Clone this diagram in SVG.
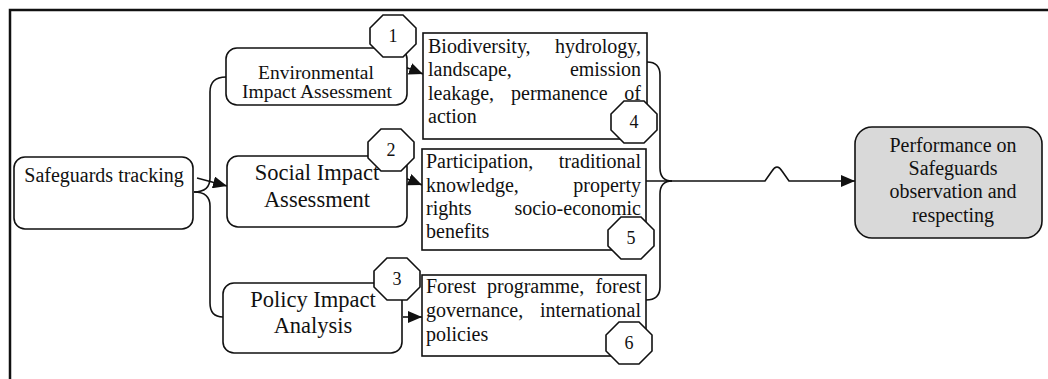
<svg xmlns="http://www.w3.org/2000/svg" width="1048" height="379" viewBox="0 0 1048 379">
<style>
text{font-family:"Liberation Serif","Times New Roman",serif;fill:#111}
.box{fill:#fff;stroke:#111;stroke-width:1.6}
.oct{fill:#fff;stroke:#111;stroke-width:1.6}
.num{font-size:18px;text-anchor:middle}
.c{text-anchor:middle}
.e{text-anchor:end}
.t20{font-size:20px}
.ln{fill:none;stroke:#111;stroke-width:1.6}
</style>
<defs>
<marker id="ah" markerUnits="userSpaceOnUse" markerWidth="16" markerHeight="12" refX="14" refY="6" orient="auto">
<path d="M0,0 L14,6 L0,12 Z" fill="#111"/>
</marker>
<polygon id="octShape" points="-10,-21 10,-21 23,-8 23,8 10,21 -10,21 -23,8 -23,-8"/>
</defs>
<rect width="1048" height="379" fill="#fff"/>
<path d="M10,379 L10,10 L1048,10" fill="none" stroke="#111" stroke-width="2.5"/>

<g id="connectors">
<path class="ln" d="M226,77 Q210,77 210,92 L210,178 Q210,192 194,192"/>
<path class="ln" d="M194,192 Q210,192 210,206 L210,303 Q210,317 223,317"/>
<path class="ln" d="M197,178 L227,186" marker-end="url(#ah)"/>
<path class="ln" d="M405,67 L423,74" marker-end="url(#ah)"/>
<path class="ln" d="M405,178 L422,185" marker-end="url(#ah)"/>
<path class="ln" d="M403,317 L422,317" marker-end="url(#ah)"/>
<path class="ln" d="M647,62 Q660,62 660,75 L660,168 Q660,181 672,181"/>
<path class="ln" d="M646,300 Q660,300 660,287 L660,194 Q660,181 672,181"/>
<path class="ln" d="M646,181 L765,181 L772,171 Q777,163 782,171 L789,181 L855,181" marker-end="url(#ah)"/>
</g>

<g id="safeguards">
<rect class="box" x="14" y="157" width="179" height="72" rx="11"/>
<text class="c t20" x="104" y="182">Safeguards tracking</text>
</g>

<g id="eia">
<rect class="box" x="226" y="48" width="181" height="57" rx="11"/>
<text class="c" x="316" y="79" font-size="19.5">Environmental</text>
<text class="c" x="317" y="98" font-size="19.5">Impact Assessment</text>
</g>

<g id="sia">
<rect class="box" x="227" y="156" width="180" height="71" rx="11"/>
<text class="c" x="317" y="180" font-size="22.5">Social Impact</text>
<text class="c" x="317" y="207" font-size="22.5">Assessment</text>
</g>

<g id="pia">
<rect class="box" x="223" y="283" width="179" height="70" rx="11"/>
<text class="c" x="313" y="307" font-size="22.5">Policy Impact</text>
<text class="c" x="313" y="333" font-size="22.5">Analysis</text>
</g>

<g id="envDetails">
<rect class="box" x="423" y="33" width="224" height="106"/>
<text class="t20" x="428" y="53">Biodiversity,</text>
<text class="t20 e" x="641" y="53">hydrology,</text>
<text class="t20" x="428" y="76">landscape,</text>
<text class="t20 e" x="641" y="76">emission</text>
<text class="t20" x="428" y="99.5">leakage,</text>
<text class="t20" x="511" y="99.5">permanence</text>
<text class="t20 e" x="641" y="99.5">of</text>
<text class="t20" x="428" y="123">action</text>
</g>

<g id="socDetails">
<rect class="box" x="422" y="149" width="224" height="101"/>
<text class="t20" x="426" y="168">Participation,</text>
<text class="t20 e" x="641" y="168">traditional</text>
<text class="t20" x="426" y="192">knowledge,</text>
<text class="t20 e" x="641" y="192">property</text>
<text class="t20" x="426" y="215">rights</text>
<text class="t20 e" x="641" y="215">socio-economic</text>
<text class="t20" x="426" y="238">benefits</text>
</g>

<g id="polDetails">
<rect class="box" x="422" y="275" width="224" height="81"/>
<text class="t20" x="426" y="293">Forest</text>
<text class="t20" x="487" y="293">programme,</text>
<text class="t20 e" x="641" y="293">forest</text>
<text class="t20" x="426" y="317">governance,</text>
<text class="t20 e" x="641" y="317">international</text>
<text class="t20" x="426" y="341">policies</text>
</g>

<g id="performance">
<rect x="855" y="127" width="187" height="111" rx="17" fill="#d9d9d9" stroke="#111" stroke-width="1.6"/>
<text class="c t20" x="953" y="152">Performance on</text>
<text class="c t20" x="953" y="175">Safeguards</text>
<text class="c t20" x="953" y="198">observation and</text>
<text class="c t20" x="953" y="222">respecting</text>
</g>

<g id="badge1"><use href="#octShape" class="oct" x="393" y="36"/><text class="num" x="393" y="42">1</text></g>
<g id="badge2"><use href="#octShape" class="oct" x="391" y="150"/><text class="num" x="391" y="156">2</text></g>
<g id="badge3"><use href="#octShape" class="oct" x="397" y="279"/><text class="num" x="397" y="285">3</text></g>
<g id="badge4"><use href="#octShape" class="oct" x="634" y="122"/><text class="num" x="634" y="128">4</text></g>
<g id="badge5"><use href="#octShape" class="oct" x="631" y="238"/><text class="num" x="631" y="244">5</text></g>
<g id="badge6"><use href="#octShape" class="oct" x="629" y="343"/><text class="num" x="629" y="349">6</text></g>
</svg>
